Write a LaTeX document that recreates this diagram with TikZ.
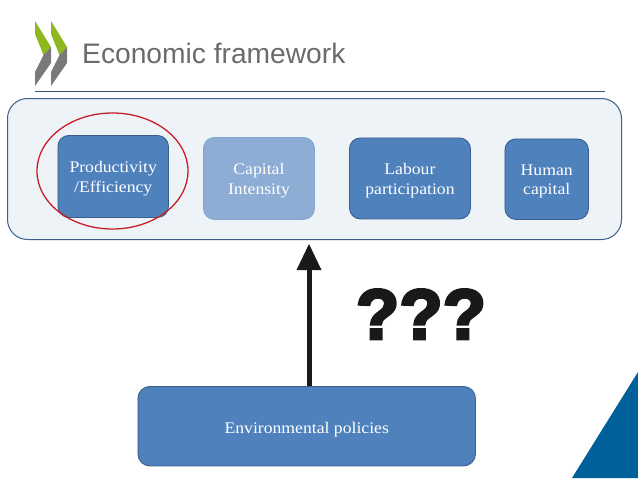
\documentclass[tikz,border=0pt]{standalone}
\usepackage{fontspec}
\usetikzlibrary{shapes.geometric,arrows.meta}
\setmainfont[FakeStretch=1.09]{Liberation Serif}
\newfontfamily\titlefont{Liberation Sans}
\newfontfamily\heavyfont[FakeBold=4]{Liberation Sans Bold}
\definecolor{boxblue}{HTML}{4F81BD}
\definecolor{boxedge}{HTML}{3A5F8C}
\definecolor{paleblue}{HTML}{EEF3F8}
\definecolor{oecdgreen}{HTML}{8DB81E}
\definecolor{oecdgrey}{HTML}{7A7A7A}
\definecolor{cornerblue}{HTML}{00609A}
\definecolor{ringred}{HTML}{C81E28}
\tikzset{
  x=1pt,y=-1pt,
  factor/.style={draw=boxedge,line width=0.9pt,fill=boxblue,rounded corners=11pt,text=white,align=center,font=\fontsize{16.2}{19.5}\selectfont,inner sep=0pt,anchor=north west,text height=35pt},
  faded/.style={factor,draw=boxblue!70,fill=boxblue!65},
}
\begin{document}
\begin{tikzpicture}
\useasboundingbox (0,0) rectangle (638,479);
\fill[white] (0,0) rectangle (638,479);
% logo
\foreach \d in {0,16}{
  \fill[oecdgreen] (35+\d,21) -- (51+\d,47) -- (43.5+\d,55) -- (35+\d,34) -- cycle;
  \fill[oecdgrey] (51+\d,47) -- (51+\d,63) -- (35+\d,86) -- (35+\d,72) -- (43.5+\d,55) -- cycle;
}
\node[anchor=base west,inner sep=0pt,text=black!58,font=\titlefont\fontsize{28.2}{30}\selectfont] (title) at (82,63) {Economic framework};
\coordinate (ruleL) at (35,91.5);
\coordinate (ruleR) at (605,91.5);
\draw[boxedge!85!black,line width=0.7pt] (ruleL) -- (ruleR);
% outer panel
\node[draw=boxedge,line width=1pt,fill=paleblue,rounded corners=20pt,inner sep=0pt,anchor=north west,minimum width=614pt,minimum height=141pt] (panel) at (7,98) {};
% factors
\node[factor,minimum width=110.5pt,minimum height=82pt] (prod) at (57.5,135) {Productivity\\/Efficiency};
\node[faded,minimum width=111pt,minimum height=82pt] (cap) at (203,137) {Capital\\Intensity};
\node[factor,minimum width=121pt,minimum height=81pt] (lab) at (349,137.5) {Labour\\participation};
\node[factor,minimum width=83.5pt,minimum height=80.5pt] (hum) at (504.5,138.5) {Human\\capital};
% highlight
\node[draw=ringred,line width=1.3pt,ellipse,minimum width=151pt,minimum height=116pt,inner sep=0pt] (ring) at (112.5,171) {};
% policies
\node[factor,text height=18pt,minimum width=337.5pt,minimum height=79.5pt,rounded corners=12pt] (env) at (137.5,386) {Environmental policies};
% arrow
\coordinate (tip) at (309,244);
\draw[black!90,line width=5pt,-{Triangle[length=26pt,width=25pt,line width=0pt]}] (tip |- env.north) -- (tip);
\node[anchor=base,inner sep=0pt,text=black!90,font=\heavyfont\fontsize{71}{71}\selectfont] (q) at (421,339) {???};
% corner
\fill[cornerblue] (572,478) -- (638,372) -- (638,478) -- cycle;
\end{tikzpicture}
\end{document}
